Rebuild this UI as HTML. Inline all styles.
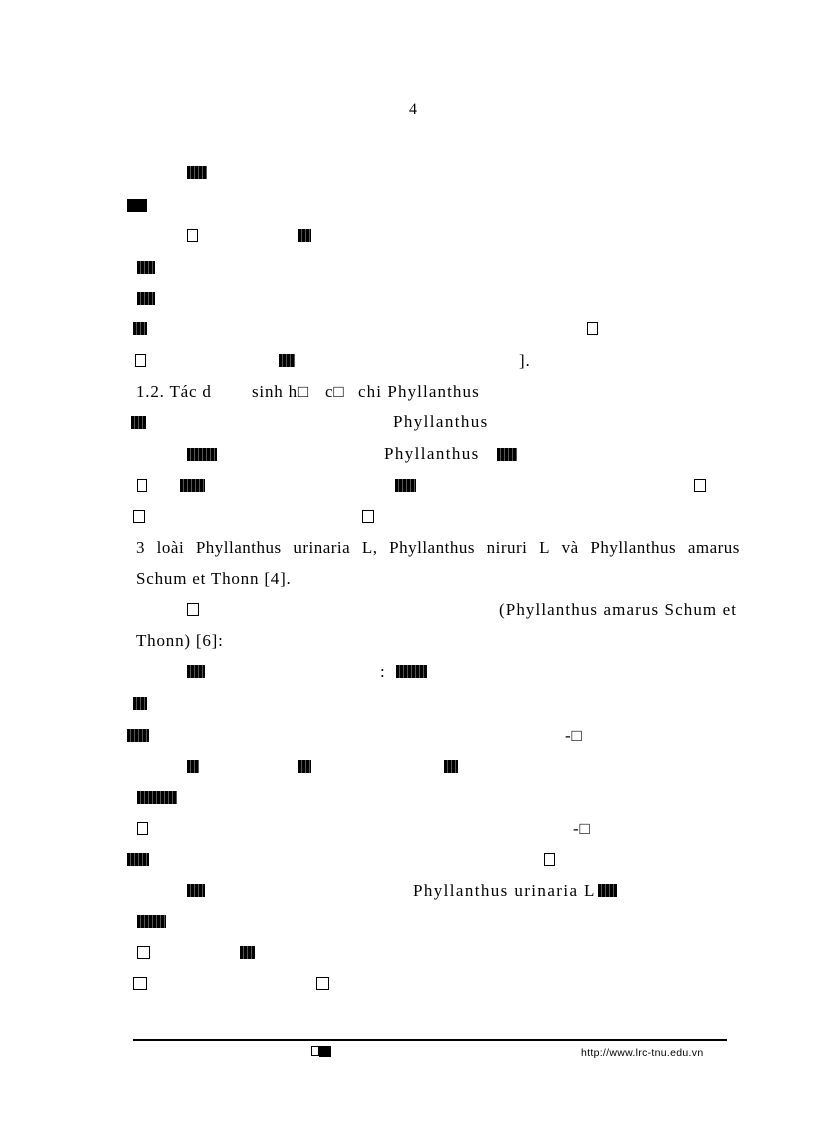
<!DOCTYPE html>
<html><head><meta charset="utf-8"><style>
html,body{margin:0;padding:0;background:#fff}
body{width:816px;height:1123px;position:relative;overflow:hidden;font-family:"Liberation Serif",serif;font-size:17px;color:#000}
.t{position:absolute;white-space:nowrap;line-height:20px;letter-spacing:0.8px}
.p{letter-spacing:1.4px}
.b{position:absolute;height:13px;background:#000;
background-image:repeating-linear-gradient(90deg,#000 0 3px,#555 3px 4px)}
.o{position:absolute;height:11px;border:1.5px solid #000;background:#fff}
.f{position:absolute;height:13px;background:#000}
</style></head><body>
<div class="t" style="left:409px;top:100px;font-size:16px">4</div>

<div class="b" style="left:187px;top:166px;width:20px"></div>
<div class="f" style="left:127px;top:199px;width:20px"></div>
<div class="o" style="left:187px;top:229px;width:9px"></div>
<div class="b" style="left:298px;top:229px;width:13px"></div>
<div class="b" style="left:137px;top:261px;width:18px"></div>
<div class="b" style="left:137px;top:292px;width:18px"></div>
<div class="b" style="left:133px;top:322px;width:14px"></div>
<div class="o" style="left:587px;top:322px;width:9px"></div>
<div class="o" style="left:135px;top:354px;width:9px"></div>
<div class="b" style="left:279px;top:354px;width:16px"></div>
<div class="t" style="left:519px;top:351px">].</div>

<div class="t" style="left:136px;top:382px">1.2. Tác d</div>
<div class="t" style="left:252px;top:382px">sinh h□</div>
<div class="t" style="left:325px;top:382px">c□</div>
<div class="t p" style="left:358px;top:382px;letter-spacing:1.1px">chi Phyllanthus</div>

<div class="b" style="left:131px;top:416px;width:15px"></div>
<div class="t p" style="left:393px;top:412px">Phyllanthus</div>

<div class="b" style="left:187px;top:448px;width:30px"></div>
<div class="t p" style="left:384px;top:444px">Phyllanthus</div>
<div class="b" style="left:497px;top:448px;width:20px"></div>

<div class="o" style="left:137px;top:479px;width:8px"></div>
<div class="b" style="left:180px;top:479px;width:25px"></div>
<div class="b" style="left:395px;top:479px;width:21px"></div>
<div class="o" style="left:694px;top:479px;width:10px"></div>

<div class="o" style="left:133px;top:510px;width:10px"></div>
<div class="o" style="left:362px;top:510px;width:10px"></div>

<div class="t" style="left:136px;top:538px;width:604px;display:flex;justify-content:space-between;letter-spacing:0.5px"><span>3</span><span>loài</span><span>Phyllanthus</span><span>urinaria</span><span>L,</span><span>Phyllanthus</span><span>niruri</span><span>L</span><span>và</span><span>Phyllanthus</span><span>amarus</span></div>
<div class="t" style="left:136px;top:569px">Schum et Thonn [4].</div>

<div class="o" style="left:187px;top:603px;width:10px"></div>
<div class="t" style="left:499px;top:600px;letter-spacing:1.1px">(Phyllanthus amarus Schum et</div>
<div class="t" style="left:136px;top:631px">Thonn) [6]:</div>

<div class="b" style="left:187px;top:665px;width:18px"></div>
<div class="t" style="left:380px;top:662px">:</div>
<div class="b" style="left:396px;top:665px;width:31px"></div>

<div class="b" style="left:133px;top:697px;width:14px"></div>
<div class="b" style="left:127px;top:729px;width:22px"></div>
<div class="t" style="left:565px;top:726px">-□</div>

<div class="b" style="left:187px;top:760px;width:12px"></div>
<div class="b" style="left:298px;top:760px;width:13px"></div>
<div class="b" style="left:444px;top:760px;width:14px"></div>

<div class="b" style="left:137px;top:791px;width:40px"></div>
<div class="o" style="left:137px;top:822px;width:9px"></div>
<div class="t" style="left:573px;top:819px">-□</div>

<div class="b" style="left:127px;top:853px;width:22px"></div>
<div class="o" style="left:544px;top:853px;width:9px"></div>

<div class="b" style="left:187px;top:884px;width:18px"></div>
<div class="t" style="left:413px;top:881px;letter-spacing:1.4px">Phyllanthus urinaria L</div>
<div class="b" style="left:598px;top:884px;width:19px"></div>

<div class="b" style="left:137px;top:915px;width:29px"></div>
<div class="o" style="left:137px;top:946px;width:11px"></div>
<div class="b" style="left:240px;top:946px;width:15px"></div>
<div class="o" style="left:133px;top:977px;width:12px"></div>
<div class="o" style="left:316px;top:977px;width:11px"></div>

<div style="position:absolute;left:133px;top:1039px;width:594px;height:2px;background:#000"></div>
<div class="o" style="left:311px;top:1046px;width:6px;height:8px"></div>
<div class="f" style="left:319px;top:1046px;width:12px;height:11px"></div>
<div class="t" style="left:581px;top:1043px;font-family:'Liberation Sans',sans-serif;font-size:10.5px;letter-spacing:0.3px">http://www.lrc-tnu.edu.vn</div>
</body></html>
